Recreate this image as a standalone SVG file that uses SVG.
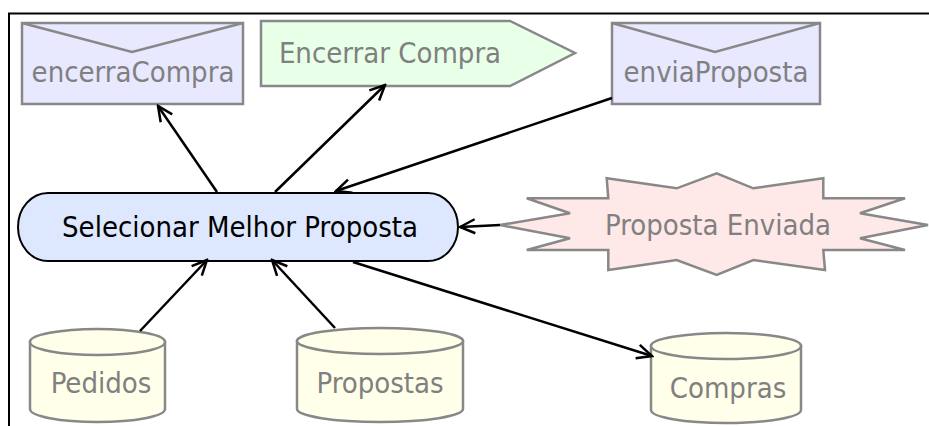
<svg xmlns="http://www.w3.org/2000/svg" width="929" height="426" viewBox="0 0 929 426">
<defs>
<style>
.lbl{font-family:"DejaVu Sans Condensed","DejaVu Sans",sans-serif;font-size:29px;fill:#808080;text-anchor:middle}
.main{fill:#000}
.node{stroke:#888;stroke-width:2.5}
.msg{fill:#e8e8ff}
.cyl{fill:#ffffea}
.conn{stroke:#000;stroke-width:2.5;fill:none;marker-end:url(#arr)}
</style>
<marker id="arr" viewBox="-18 -10 20 20" markerWidth="20" markerHeight="20" refX="0" refY="0" orient="auto" markerUnits="userSpaceOnUse">
<path d="M-15,-7 L0,0 L-15,7" fill="none" stroke="#000" stroke-width="2.5"/>
</marker>
</defs>
<rect width="929" height="426" fill="#fff"/>
<path d="M8,13.5 H929 M9,13.5 V426" stroke="#000" stroke-width="2" fill="none"/>

<g id="encerraCompra">
<rect class="node msg" x="22" y="23" width="221" height="81"/>
<path class="node" d="M22,23 L132,52 L243,23" fill="none"/>
<text class="lbl" x="133" y="82">encerraCompra</text>
</g>

<g id="EncerrarCompra">
<path class="node" d="M261,21 H510 L575,53 L510,86 H261 Z" fill="#e8ffe8"/>
<text class="lbl" x="390" y="63">Encerrar Compra</text>
</g>

<g id="enviaProposta">
<rect class="node msg" x="612" y="23" width="208" height="81"/>
<path class="node" d="M612,23 L715,52 L820,23" fill="none"/>
<text class="lbl" x="716" y="82">enviaProposta</text>
</g>

<g id="SelecionarMelhorProposta">
<rect x="18" y="193" width="440" height="68" rx="30" ry="34" fill="#dde8ff" stroke="#000" stroke-width="2"/>
<text class="lbl main" x="240" y="237">Selecionar Melhor Proposta</text>
</g>

<g id="PropostaEnviada">
<path class="node" fill="#ffe8e8" d="M500,225 L570,213.3 L526.7,198.3 L608.3,198.3 L606.7,178.3 L676.7,188.3 L716.7,173.3 L753.3,188.3 L823.3,178.3 L823.3,198.3 L905,198.3 L860,213.3 L928,225 L860,238.3 L905,250 L823.3,250 L825,270 L753.3,260 L716.7,275 L676.7,260 L608.3,270 L608.3,250 L526.7,250 L570,238.3 Z"/>
<text class="lbl" x="718" y="235">Proposta Enviada</text>
</g>

<g id="Pedidos">
<path class="node cyl" d="M30,342 V409 A67.5,13 0 0 0 165,409 V342 Z"/>
<ellipse class="node cyl" cx="97.5" cy="342" rx="67.5" ry="13"/>
<text class="lbl" x="101" y="393">Pedidos</text>
</g>

<g id="Propostas">
<path class="node cyl" d="M297,341 V409 A83,13 0 0 0 463,409 V341 Z"/>
<ellipse class="node cyl" cx="380" cy="341" rx="83" ry="13"/>
<text class="lbl" x="380" y="393">Propostas</text>
</g>

<g id="Compras">
<path class="node cyl" d="M651,346 V410 A75,13 0 0 0 801,410 V346 Z"/>
<ellipse class="node cyl" cx="726" cy="346" rx="75" ry="13"/>
<text class="lbl" x="728" y="398">Compras</text>
</g>

<g id="connectors">
<line class="conn" x1="217" y1="192" x2="158" y2="106"/>
<line class="conn" x1="275" y1="192" x2="385" y2="85"/>
<line class="conn" x1="612" y1="98" x2="336" y2="191"/>
<line class="conn" x1="500" y1="225" x2="460" y2="227"/>
<line class="conn" x1="140" y1="331" x2="207" y2="260"/>
<line class="conn" x1="335" y1="328" x2="272" y2="260"/>
<line class="conn" x1="353" y1="262" x2="652" y2="356"/>
</g>
</svg>
